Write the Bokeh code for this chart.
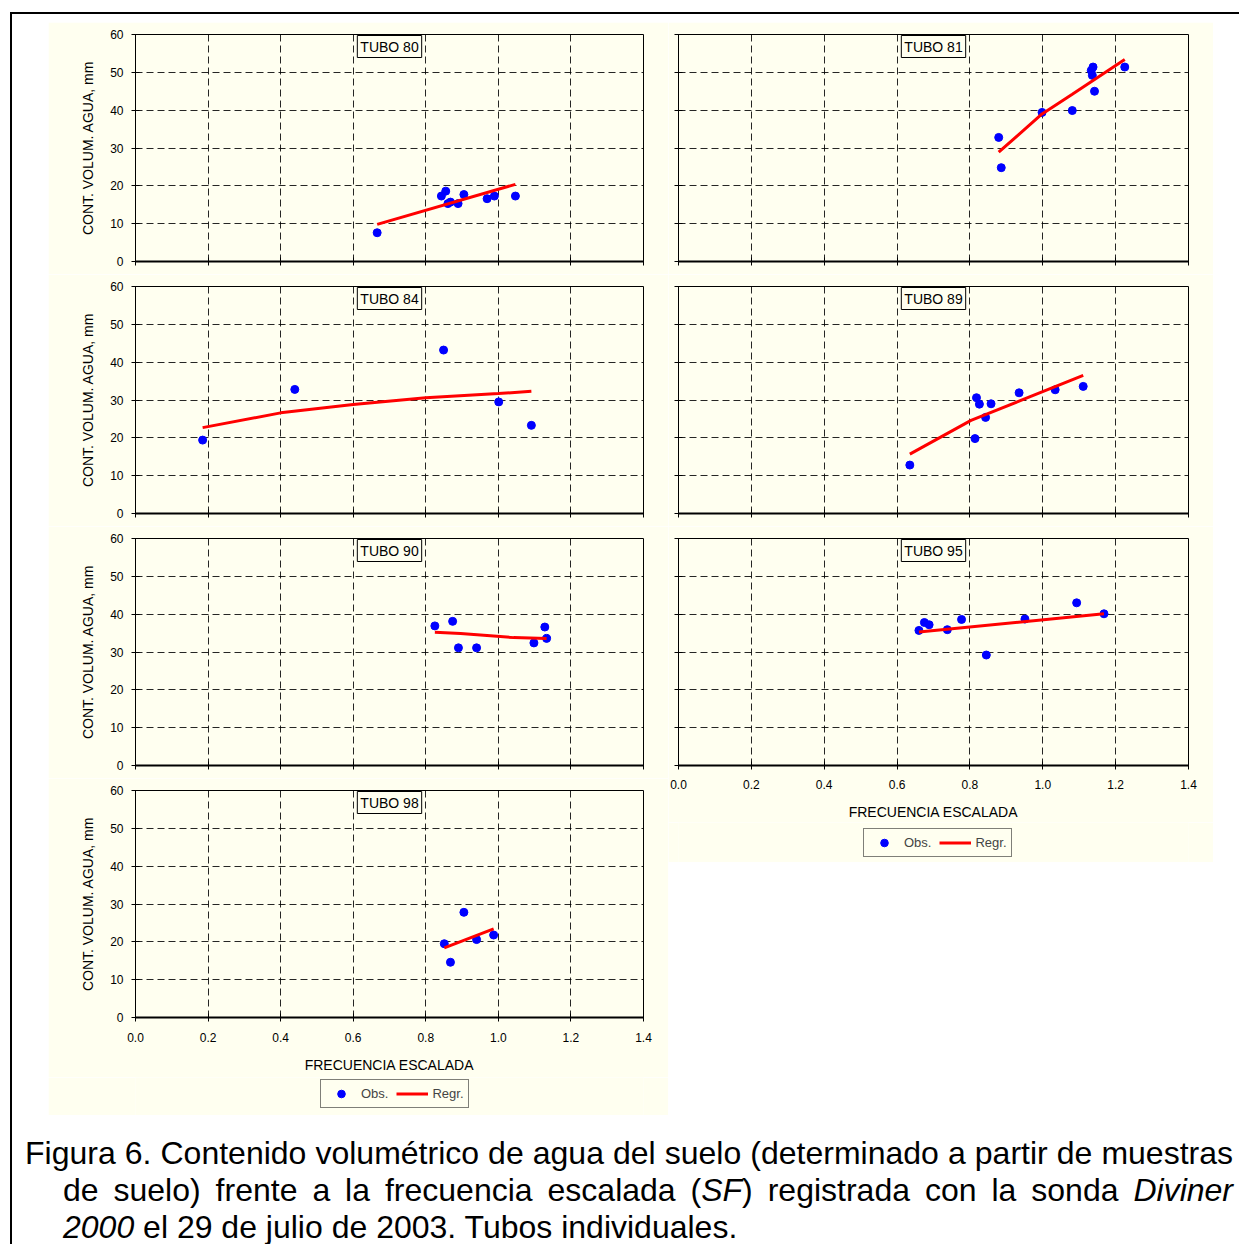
from bokeh.plotting import figure
from bokeh.models import (Range1d, FixedTicker, PrintfTickFormatter, Label,
                          Legend, LegendItem, Div)
from bokeh.layouts import column, row
from bokeh.embed import file_html
from bokeh.resources import INLINE

# ---------------- data ----------------
x_ticks = [0.0, 0.2, 0.4, 0.6, 0.8, 1.0, 1.2, 1.4]
y_ticks = [0, 10, 20, 30, 40, 50, 60]

sf80 = [0.666, 0.843, 0.855, 0.861, 0.868, 0.889, 0.905, 0.969, 0.989, 1.047]
agua80 = [7.6, 17.3, 18.6, 15.3, 15.7, 15.3, 17.7, 16.6, 17.3, 17.3]
reg_sf80 = [0.666, 1.047]
reg_agua80 = [9.8, 20.4]

sf81 = [0.879, 0.886, 0.998, 1.081, 1.138, 1.133, 1.136, 1.142, 1.225]
agua81 = [32.8, 24.8, 39.4, 39.9, 51.4, 50.5, 49.2, 45.0, 51.4]
reg_sf81 = [0.879, 0.998, 1.081, 1.225]
reg_agua81 = [28.9, 39.0, 44.2, 53.4]

sf84 = [0.185, 0.439, 0.849, 1.001, 1.091]
agua84 = [19.4, 32.8, 43.2, 29.5, 23.3]
reg_sf84 = [0.185, 0.40, 0.60, 0.80, 1.00, 1.091]
reg_agua84 = [22.7, 26.6, 28.8, 30.6, 31.7, 32.3]

sf89 = [0.635, 0.814, 0.818, 0.826, 0.843, 0.858, 0.935, 1.034, 1.111]
agua89 = [12.8, 19.8, 30.6, 28.9, 25.4, 29.0, 31.9, 32.7, 33.6]
reg_sf89 = [0.635, 0.803, 0.95, 1.111]
reg_agua89 = [15.7, 24.6, 30.3, 36.5]

sf90 = [0.825, 0.874, 0.890, 0.940, 1.098, 1.128, 1.133]
agua90 = [36.9, 38.1, 31.1, 31.1, 32.4, 36.6, 33.6]
reg_sf90 = [0.825, 0.896, 0.978, 1.042, 1.133]
reg_agua90 = [35.2, 34.9, 34.3, 33.8, 33.6]

sf95 = [0.660, 0.675, 0.688, 0.738, 0.777, 0.845, 0.951, 1.093, 1.168]
agua95 = [35.7, 37.8, 37.2, 35.9, 38.6, 29.2, 38.7, 43.0, 40.1]
reg_sf95 = [0.660, 1.168]
reg_agua95 = [35.3, 40.1]

sf98 = [0.851, 0.868, 0.905, 0.940, 0.987]
agua98 = [19.5, 14.6, 27.8, 20.6, 21.8]
reg_sf98 = [0.851, 0.987]
reg_agua98 = [18.4, 23.4]

x_title = "FRECUENCIA ESCALADA"
y_title = "CONT. VOLUM. AGUA, mm"
legend_labels = ["Obs.", "Regr."]

# ---------------- styling ----------------
BG = "#FFFFF0"
FONT = "Liberation Sans"
DOT = "#0000FF"
RED = "#FF0000"


def panel(name, sf, agua, rsf, ragua, width, height, mbl, mbb,
          show_xlabels, show_ylabels, tick_standoff=11):
    p = figure(width=width, height=height,
               x_range=Range1d(0, 1.4), y_range=Range1d(0, 60),
               output_backend="svg", toolbar_location=None,
               min_border_left=mbl, min_border_right=25,
               min_border_top=12, min_border_bottom=mbb,
               background_fill_color=BG, border_fill_color=BG,
               outline_line_color="black", outline_line_width=1)

    for ax in (p.xaxis[0], p.yaxis[0]):
        ax.axis_line_color = "black"
        ax.major_tick_line_color = "black"
        ax.major_tick_in = 4
        ax.major_tick_out = 4
        ax.minor_tick_line_color = None
        ax.major_label_text_font = FONT
        ax.major_label_text_color = "black"
        ax.axis_label_text_font = FONT
        ax.axis_label_text_font_style = "normal"
        ax.axis_label_text_color = "black"
        ax.axis_label_text_font_size = "14px"

    p.xaxis.ticker = FixedTicker(ticks=x_ticks)
    p.xaxis.formatter = PrintfTickFormatter(format="%.1f")
    p.yaxis.ticker = FixedTicker(ticks=y_ticks)
    p.xaxis.axis_line_width = 2

    if show_xlabels:
        p.xaxis.major_label_text_font_size = "12px"
        p.xaxis.major_label_standoff = tick_standoff
        p.xaxis.axis_label = x_title
        p.xaxis.axis_label_standoff = 12
    else:
        p.xaxis.major_label_text_font_size = "1px"
        p.xaxis.major_label_text_alpha = 0
        p.xaxis.major_label_standoff = 0

    if show_ylabels:
        p.yaxis.major_label_text_font_size = "12px"
        p.yaxis.major_label_standoff = 8
        p.yaxis.axis_label = y_title
        p.yaxis.axis_label_standoff = 11
    else:
        p.yaxis.major_label_text_font_size = "1px"
        p.yaxis.major_label_text_alpha = 0
        p.yaxis.major_label_standoff = 0

    p.grid.grid_line_color = "black"
    p.grid.grid_line_dash = "7 4"
    p.grid.grid_line_alpha = 0.85

    p.scatter(sf, agua, size=8, color=DOT, marker="circle")
    p.line(rsf, ragua, line_color=RED, line_width=3)

    lab = Label(x=0.7, y=60, text=name, text_align="center",
                text_baseline="top", y_offset=-1,
                text_font=FONT, text_font_size="14px", text_color="black",
                border_line_color="black", border_line_width=1,
                background_fill_color=BG, padding=3)
    p.add_layout(lab)
    return p


def legend_strip(width, height, loc, sf, agua, rsf, ragua):
    """Strip under the bottom panel that holds the shared legend.
    Its renderers carry the panel's series but are hidden; they only
    give the legend its glyph styles."""
    p = figure(width=width, height=height,
               x_range=Range1d(0, 1.4), y_range=Range1d(0, 60),
               output_backend="svg", toolbar_location=None,
               x_axis_location=None, y_axis_location=None,
               min_border=0, background_fill_color=BG, border_fill_color=BG,
               outline_line_color=None)
    p.grid.visible = False
    sc = p.scatter(sf, agua, size=8, color=DOT, marker="circle", visible=False)
    ln = p.line(rsf, ragua, line_color=RED, line_width=3, visible=False)
    leg = Legend(items=[LegendItem(label=legend_labels[0], renderers=[sc]),
                        LegendItem(label=legend_labels[1], renderers=[ln])],
                 orientation="horizontal", location=loc,
                 border_line_color="black", border_line_width=1,
                 background_fill_color=BG, background_fill_alpha=1,
                 label_text_font=FONT, label_text_font_size="13px",
                 padding=4, spacing=8, glyph_width=32, glyph_height=19,
                 label_height=19, label_standoff=4, margin=0,
                 click_policy="none")
    p.add_layout(leg)
    return p


LW, RW = 620, 545
p80 = panel("TUBO 80", sf80, agua80, reg_sf80, reg_agua80, LW, 252, 87, 13, False, True)
p84 = panel("TUBO 84", sf84, agua84, reg_sf84, reg_agua84, LW, 252, 87, 13, False, True)
p90 = panel("TUBO 90", sf90, agua90, reg_sf90, reg_agua90, LW, 252, 87, 13, False, True)
p98 = panel("TUBO 98", sf98, agua98, reg_sf98, reg_agua98, LW, 299, 87, 60, True, True,
            tick_standoff=11)
leg_left = legend_strip(LW, 38, (185, 7), sf98, agua98, reg_sf98, reg_agua98)

p81 = panel("TUBO 81", sf81, agua81, reg_sf81, reg_agua81, RW, 252, 10, 13, False, False)
p89 = panel("TUBO 89", sf89, agua89, reg_sf89, reg_agua89, RW, 252, 10, 13, False, False)
p95 = panel("TUBO 95", sf95, agua95, reg_sf95, reg_agua95, RW, 296, 10, 57, True, False,
            tick_standoff=10)
leg_right = legend_strip(RW, 40, (185, 5), sf95, agua95, reg_sf95, reg_agua95)

left_col = column(p80, p84, p90, p98, leg_left, spacing=0)
right_col = column(p81, p89, p95, leg_right, spacing=0)
main = row(left_col, right_col, spacing=0, margin=(8, 0, 0, 36))

caption_html = (
    "<div style=\"font-family:'Liberation Sans',Arial,sans-serif;font-size:32px;"
    "line-height:37px;color:black;width:1208px;\">"
    "<div style=\"text-align:justify;text-align-last:justify;white-space:nowrap;\">"
    "Figura 6. Contenido volumétrico de agua del suelo (determinado a partir de muestras</div>"
    "<div style=\"text-align:justify;text-align-last:justify;white-space:nowrap;padding-left:38px;\">"
    "de suelo) frente a la frecuencia escalada (<i>SF</i>) registrada con la sonda <i>Diviner</i></div>"
    "<div style=\"white-space:nowrap;padding-left:38px;\">"
    "<i>2000</i> el 29 de julio de 2003. Tubos individuales.</div>"
    "</div>"
)
caption = Div(text=caption_html, width=1214, height=109, margin=(20, 0, 0, 13))

root = column(main, caption, spacing=0, margin=(12, 0, 0, 10),
              styles={"border-top": "2px solid black",
                      "border-left": "2px solid black"})

open("out.html", "w").write(file_html(root, INLINE))
